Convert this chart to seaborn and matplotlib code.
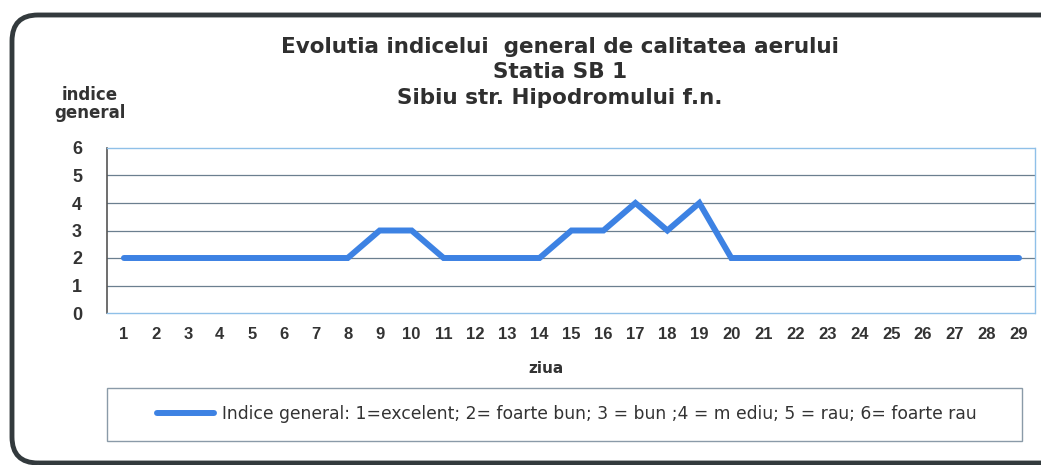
import numpy as np
import matplotlib.pyplot as plt
import seaborn as sns
import pandas as pd
from matplotlib.patches import FancyBboxPatch, Rectangle

# daily general air quality index, station SB 1
zile = list(range(1, 30))
indice = [2, 2, 2, 2, 2, 2, 2, 2, 3, 3, 2, 2, 2, 2, 3, 3, 4, 3, 4,
          2, 2, 2, 2, 2, 2, 2, 2, 2, 2]
eticheta = "Indice general: 1=excelent; 2= foarte bun; 3 = bun ;4 = m ediu; 5 = rau; 6= foarte rau"

df = pd.DataFrame({"ziua": zile, "indice": indice})

sns.set_style("white")
plt.rcParams['font.family'] = ['Liberation Sans', 'DejaVu Sans']

W, H = 1041, 465
fig = plt.figure(figsize=(W / 100, H / 100), dpi=100)
ax = fig.add_axes([107 / W, 1 - 313 / H, (1035 - 107) / W, (313 - 148) / H])

sns.lineplot(data=df, x="ziua", y="indice", ax=ax, color="#3d82e3",
             linewidth=4.3, label=eticheta, solid_joinstyle="miter")

ax.set_xlim(0.47, 29.5)
ax.set_ylim(0, 6)
ax.set_xticks(zile)
ax.set_yticks(range(0, 7))
ax.tick_params(axis="x", length=0, pad=10, labelsize=12, labelcolor="#333333")
ax.tick_params(axis="y", length=0, pad=18, labelsize=13, labelcolor="#333333")
for lab in ax.get_xticklabels() + ax.get_yticklabels():
    lab.set_fontweight("bold")

# gridlines like the excel chart
for yv in range(1, 6):
    ax.axhline(yv, color="#6b7f8f", linewidth=0.9, zorder=0)
ax.spines["left"].set_color("#555555")
ax.spines["left"].set_linewidth(1.2)
for s in ["top", "right", "bottom"]:
    ax.spines[s].set_color("#8fc0e8")
    ax.spines[s].set_linewidth(1.0)
ax.spines["top"].set_linestyle((0, (2, 1)))
ax.spines["bottom"].set_linestyle((0, (2, 1)))

ax.set_xlabel("")
ax.set_ylabel("")

# titles
titlu = ["Evolutia indicelui  general de calitatea aerului",
         "Statia SB 1",
         "Sibiu str. Hipodromului f.n."]
for txt, yp in zip(titlu, [47, 72, 98]):
    fig.text(560 / W, 1 - yp / H, txt, ha="center", va="center",
             fontsize=15.5, fontweight="bold", color="#2f2f2f",
             family=["DejaVu Sans"])
fig.text(90 / W, 1 - 104 / H, "indice\ngeneral", ha="center", va="center",
         fontsize=12, fontweight="bold", color="#333333", linespacing=1.05,
         family=["DejaVu Sans"])
fig.text(546 / W, 1 - 368 / H, "ziua", ha="center", va="center",
         fontsize=11, fontweight="bold", color="#333333",
         family=["DejaVu Sans"])

# legend box
fig.patches.append(Rectangle((107 / W, 1 - 441 / H), (1022 - 107) / W, 53 / H,
                             transform=fig.transFigure, fill=False,
                             edgecolor="#8a9aa8", linewidth=1.0))
leg = ax.legend(loc="center", bbox_to_anchor=(567 / W, 1 - 414 / H),
                bbox_transform=fig.transFigure, frameon=False,
                prop={"family": ["DejaVu Sans"], "size": 12.3},
                handlelength=3.3, handletextpad=0.5)
for t in leg.get_texts():
    t.set_color("#333333")

# rounded outer frame, right side runs past the edge of the scan
fig.patches.append(FancyBboxPatch((12 / W, 1 - 463 / H), (1075 - 12) / W, (463 - 15) / H,
                                  boxstyle="round,pad=0,rounding_size=0.025",
                                  transform=fig.transFigure, fill=False,
                                  edgecolor="#333a3d", linewidth=3.5,
                                  mutation_aspect=W / H))

fig.savefig("out.png", dpi=100)
